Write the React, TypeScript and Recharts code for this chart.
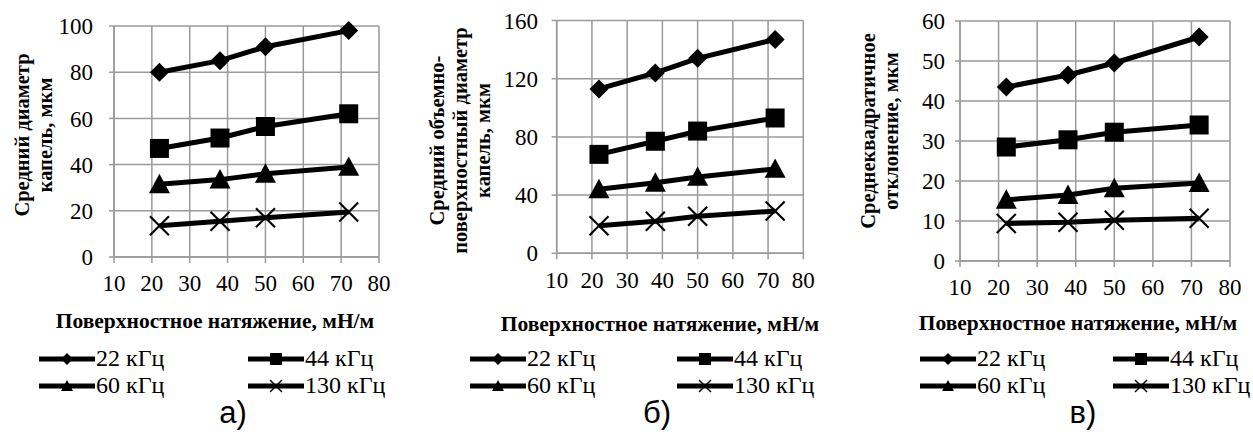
import React from 'react';
import { LineChart, Line, XAxis, YAxis, CartesianGrid, Legend } from 'recharts';

// поверхностное натяжение, мН/м
const tension = [22, 38, 50, 72];
const xTicks = [10, 20, 30, 40, 50, 60, 70, 80];
const seriesNames = ['22 кГц', '44 кГц', '60 кГц', '130 кГц'];

// а) средний диаметр капель, мкм
const meanA22 = [80, 85, 91, 98];
const meanA44 = [47, 51.5, 56.5, 62];
const meanA60 = [31.5, 33.5, 36, 39];
const meanA130 = [13.5, 15.5, 17, 19.5];
const ticksA = [0, 20, 40, 60, 80, 100];

// б) средний объемно-поверхностный диаметр, мкм
const sauterB22 = [113, 124, 134, 147];
const sauterB44 = [68, 77, 84, 93];
const sauterB60 = [44, 48.5, 52.5, 58];
const sauterB130 = [19, 22, 25.5, 29];
const ticksB = [0, 40, 80, 120, 160];

// в) среднеквадратичное отклонение, мкм
const sdC22 = [43.5, 46.5, 49.5, 56];
const sdC44 = [28.5, 30.3, 32.2, 34];
const sdC60 = [15.3, 16.5, 18.2, 19.5];
const sdC130 = [9.4, 9.7, 10.2, 10.7];
const ticksC = [0, 10, 20, 30, 40, 50, 60];

const keys = ['s22', 's44', 's60', 's130'];
const shapes: Record<string, string> = { s22: 'diamond', s44: 'square', s60: 'triangle', s130: 'cross' };

const GRID = '#9a9a9a';
const SERIF = 'Liberation Serif, Tinos, DejaVu Serif, serif';

function buildRows(cols: number[][]) {
  return tension.map((x, i) => ({
    x,
    s22: cols[0][i],
    s44: cols[1][i],
    s60: cols[2][i],
    s130: cols[3][i],
  }));
}

function Marker({ shape, cx, cy, size }: { shape: string; cx: number; cy: number; size: number }) {
  const h = size / 2;
  if (shape === 'diamond') {
    return <polygon points={`${cx},${cy - h} ${cx + h},${cy} ${cx},${cy + h} ${cx - h},${cy}`} fill="#000" />;
  }
  if (shape === 'square') {
    return <rect x={cx - h} y={cy - h} width={size} height={size} fill="#000" />;
  }
  if (shape === 'triangle') {
    return <polygon points={`${cx},${cy - h} ${cx + h},${cy + h * 0.85} ${cx - h},${cy + h * 0.85}`} fill="#000" />;
  }
  return (
    <g stroke="#000" strokeWidth={Math.max(1.5, size / 9)}>
      <line x1={cx - h} y1={cy - h} x2={cx + h} y2={cy + h} />
      <line x1={cx - h} y1={cy + h} x2={cx + h} y2={cy - h} />
    </g>
  );
}

const dotSize: Record<string, number> = { diamond: 19, square: 19, triangle: 21, cross: 19 };

const dotFor = (key: string) => (props: any) => {
  const { cx, cy, index } = props;
  if (cx == null || cy == null) return <g key={`${key}-${index}`} />;
  return (
    <g key={`${key}-${index}`}>
      <Marker shape={shapes[key]} cx={cx} cy={cy} size={dotSize[shapes[key]]} />
    </g>
  );
};

interface PanelProps {
  left: number;
  width: number;
  rows: any[];
  yMax: number;
  yTicks: number[];
  margin: { top: number; right: number; bottom: number; left: number };
  yTickMargin: number;
  xTickMargin: number;
  legendLeft: number;
  legendColGap: number;
  yTitle: string[];
  yTitleX: number;
  yTitleY: number;
  xTitleX: number;
  xTitleY: number;
  tag: string;
  tagX: number;
}

function LegendBox({ payload, colGap }: any) {
  // порядок как в исходной легенде: 22, 44 / 60, 130
  const items = [...((payload || []) as any[])].sort(
    (a, b) => keys.indexOf(a.dataKey) - keys.indexOf(b.dataKey)
  );
  return (
    <div style={{ display: 'grid', gridTemplateColumns: `${colGap}px auto`, fontFamily: SERIF, fontSize: 24, color: '#000' }}>
      {items.map((entry) => (
        <div key={entry.dataKey} style={{ display: 'flex', alignItems: 'center', height: 27 }}>
          <svg width={57} height={20} style={{ flex: 'none' }}>
            <line x1={0} y1={10} x2={56} y2={10} stroke="#000" strokeWidth={5} />
            <Marker shape={shapes[entry.dataKey]} cx={28} cy={10} size={12} />
          </svg>
          <span style={{ whiteSpace: 'nowrap', lineHeight: '27px' }}>{entry.value}</span>
        </div>
      ))}
    </div>
  );
}

function Panel(p: PanelProps) {
  const lineH = 23;
  return (
    <div style={{ position: 'absolute', left: p.left, top: 0, width: p.width, height: 439 }}>
      <LineChart width={p.width} height={439} data={p.rows} margin={p.margin}>
        <CartesianGrid stroke={GRID} strokeWidth={1.5} />
        <XAxis
          dataKey="x"
          type="number"
          domain={[10, 80]}
          ticks={xTicks}
          height={40}
          interval={0}
          axisLine={{ stroke: GRID, strokeWidth: 1.5 }}
          tickLine={{ stroke: GRID, strokeWidth: 1.5 }}
          tickSize={6}
          tickMargin={p.xTickMargin}
          tick={{ fill: '#000', fontSize: 23, fontFamily: SERIF }}
        />
        <YAxis
          type="number"
          domain={[0, p.yMax]}
          ticks={p.yTicks}
          width={60}
          interval={0}
          axisLine={{ stroke: GRID, strokeWidth: 1.5 }}
          tickLine={{ stroke: GRID, strokeWidth: 1.5 }}
          tickSize={5}
          tickMargin={p.yTickMargin}
          tick={{ fill: '#000', fontSize: 23, fontFamily: SERIF }}
        />
        {keys.map((k, i) => (
          <Line
            key={k}
            dataKey={k}
            name={seriesNames[i]}
            stroke="#000"
            strokeWidth={5}
            dot={dotFor(k)}
            activeDot={false}
            isAnimationActive={false}
          />
        ))}
        <Legend
          layout="horizontal"
          verticalAlign="middle"
          align="center"
          itemSorter={null as any}
          wrapperStyle={{ left: p.legendLeft, top: 345, width: 400, height: 54 }}
          content={(props: any) => <LegendBox payload={props.payload} colGap={p.legendColGap} />}
        />
      </LineChart>

      <div
        style={{
          position: 'absolute',
          left: p.yTitleX - 160,
          top: p.yTitleY - (p.yTitle.length * lineH) / 2,
          width: 320,
          height: p.yTitle.length * lineH,
          transform: 'rotate(-90deg)',
          transformOrigin: '50% 50%',
          textAlign: 'center',
          fontFamily: SERIF,
          fontWeight: 700,
          fontSize: 20.5,
          lineHeight: `${lineH}px`,
          color: '#000',
        }}
      >
        {p.yTitle.map((t) => (
          <div key={t} style={{ whiteSpace: 'nowrap' }}>{t}</div>
        ))}
      </div>

      <div
        style={{
          position: 'absolute',
          left: p.xTitleX - 200,
          top: p.xTitleY - 12,
          width: 400,
          textAlign: 'center',
          fontFamily: SERIF,
          fontWeight: 700,
          fontSize: 21.5,
          lineHeight: '24px',
          color: '#000',
          whiteSpace: 'nowrap',
        }}
      >
        Поверхностное натяжение, мН/м
      </div>

      <div
        style={{
          position: 'absolute',
          left: p.tagX - 50,
          top: 397,
          width: 100,
          textAlign: 'center',
          fontFamily: 'Liberation Sans, Arial, sans-serif',
          fontSize: 31,
          lineHeight: '31px',
          color: '#000',
        }}
      >
        {p.tag}
      </div>
    </div>
  );
}

export default function App() {
  const rowsA = buildRows([meanA22, meanA44, meanA60, meanA130]);
  const rowsB = buildRows([sauterB22, sauterB44, sauterB60, sauterB130]);
  const rowsC = buildRows([sdC22, sdC44, sdC60, sdC130]);

  return (
    <div style={{ position: 'absolute', left: 0, top: 0, width: 1253, height: 439, background: '#fff', overflow: 'hidden' }}>
      <Panel
        left={0}
        width={420}
        rows={rowsA}
        yMax={100}
        yTicks={ticksA}
        margin={{ top: 26, right: 41, bottom: 142, left: 54 }}
        yTickMargin={16}
        xTickMargin={12}
        legendLeft={39}
        legendColGap={209}
        yTitle={['Средний диаметр', 'капель, мкм']}
        yTitleX={33.5}
        yTitleY={135}
        xTitleX={215}
        xTitleY={321}
        tag="а)"
        tagX={233}
      />
      <Panel
        left={420}
        width={420}
        rows={rowsB}
        yMax={160}
        yTicks={ticksB}
        margin={{ top: 20.5, right: 36.7, bottom: 145.7, left: 76.7 }}
        yTickMargin={13.7}
        xTickMargin={12}
        legendLeft={50}
        legendColGap={207}
        yTitle={['Средний объемно-', 'поверхностный диаметр', 'капель, мкм']}
        yTitleX={40}
        yTitleY={140}
        xTitleX={240}
        xTitleY={324}
        tag="б)"
        tagX={237}
      />
      <Panel
        left={840}
        width={413}
        rows={rowsC}
        yMax={60}
        yTicks={ticksC}
        margin={{ top: 21, right: 23, bottom: 138, left: 60 }}
        yTickMargin={10}
        xTickMargin={12}
        legendLeft={80}
        legendColGap={193}
        yTitle={['Среднеквадратичное', 'отклонение, мкм']}
        yTitleX={39.5}
        yTitleY={131}
        xTitleX={238}
        xTitleY={323}
        tag="в)"
        tagX={243}
      />
    </div>
  );
}
